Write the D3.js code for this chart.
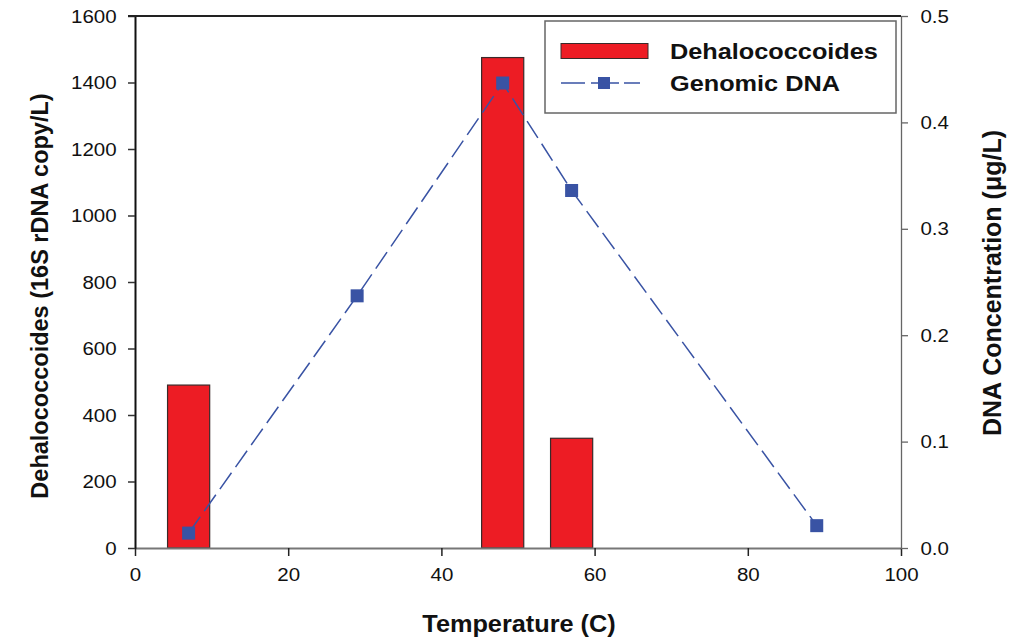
<!DOCTYPE html>
<html>
<head>
<meta charset="utf-8">
<script src="https://cdn.jsdelivr.net/npm/d3@7"></script>
<style>
  body { margin: 0; background: #fff; }
  svg { display: block; font-family: "Liberation Sans", Arial, sans-serif; }
</style>
</head>
<body>
<div id="chart"></div>
<script>
// Data
var barTemps = [7, 48, 57];
var barCounts = [490, 1475, 330];
var dnaTemps = [7, 29, 48, 57, 89];
var dnaConc = [0.014, 0.237, 0.437, 0.336, 0.021];
var xTicks = [0, 20, 40, 60, 80, 100];
var leftTicks = [0, 200, 400, 600, 800, 1000, 1200, 1400, 1600];
var rightTicks = [0, 0.1, 0.2, 0.3, 0.4, 0.5];

var width = 1014, height = 637;
var plotLeft = 135, plotRight = 901, plotTop = 16, plotBottom = 548;

var svg = d3.select('#chart')
            .append('svg')
            .attr('width', width)
            .attr('height', height);

var x = d3.scaleLinear().domain([0, 100]).range([plotLeft, plotRight]);
var yL = d3.scaleLinear().domain([0, 1600]).range([plotBottom, plotTop]);
var yR = d3.scaleLinear().domain([0, 0.5]).range([plotBottom, plotTop]);

var stretch = 'scale(1.08,1)';

// bars
var barW = x(5.5) - x(0);
svg.selectAll('.bar')
   .data(barTemps)
   .enter()
   .append('rect')
   .attr('class', 'bar')
   .attr('x', function(d) { return x(d) - barW / 2; })
   .attr('y', function(d, i) { return yL(barCounts[i]); })
   .attr('width', barW)
   .attr('height', function(d, i) { return yL(0) - yL(barCounts[i]); })
   .attr('fill', '#ed1c24')
   .attr('stroke', '#3a2a2a')
   .attr('stroke-width', 1.2);

// axes
var xAxis = svg.append('g')
   .attr('transform', 'translate(0,' + plotBottom + ')')
   .call(d3.axisBottom(x).tickValues(xTicks).tickSizeInner(8).tickSizeOuter(0).tickPadding(12));
xAxis.select('.domain').attr('stroke', '#777').attr('stroke-width', 2);
xAxis.selectAll('.tick line').attr('stroke', '#222').attr('stroke-width', 1.5);

var yAxisL = svg.append('g')
   .attr('transform', 'translate(' + plotLeft + ',0)')
   .call(d3.axisLeft(yL).tickValues(leftTicks).tickFormat(d3.format('d')).tickSizeInner(7).tickSizeOuter(0).tickPadding(10));
yAxisL.select('.domain').attr('stroke', '#111').attr('stroke-width', 2);
yAxisL.selectAll('.tick line').attr('stroke', '#333').attr('stroke-width', 1.5);

var yAxisR = svg.append('g')
   .attr('transform', 'translate(' + plotRight + ',0)')
   .call(d3.axisRight(yR).tickValues(rightTicks).tickFormat(d3.format('.1f')).tickSizeInner(7).tickSizeOuter(0).tickPadding(11));
yAxisR.select('.domain').attr('stroke', '#666').attr('stroke-width', 1.3);
yAxisR.selectAll('.tick line').attr('stroke', '#666').attr('stroke-width', 1.3);

// top frame line
svg.append('line')
   .attr('x1', plotLeft - 7).attr('x2', plotRight)
   .attr('y1', plotTop).attr('y2', plotTop)
   .attr('stroke', '#222').attr('stroke-width', 2);

svg.selectAll('.tick text')
   .attr('font-size', 19)
   .attr('fill', '#111')
   .attr('font-family', '"Liberation Sans", Arial, sans-serif')
   .attr('transform', stretch);

// genomic DNA line
var line = d3.line()
   .x(function(d) { return x(d[0]); })
   .y(function(d) { return yR(d[1]); });
var pts = dnaTemps.map(function(t, i) { return [t, dnaConc[i]]; });

svg.append('path')
   .datum(pts)
   .attr('d', line)
   .attr('fill', 'none')
   .attr('stroke', '#3953a4')
   .attr('stroke-width', 1.5)
   .attr('stroke-dasharray', '20,7');

svg.selectAll('.pt')
   .data(pts)
   .enter()
   .append('rect')
   .attr('class', 'pt')
   .attr('x', function(d) { return x(d[0]) - 6.5; })
   .attr('y', function(d) { return yR(d[1]) - 6.5; })
   .attr('width', 13)
   .attr('height', 13)
   .attr('fill', '#3953a4');

// legend
var lg = svg.append('g');
lg.append('rect')
  .attr('x', 545).attr('y', 21)
  .attr('width', 351).attr('height', 92)
  .attr('fill', '#fff')
  .attr('stroke', '#666')
  .attr('stroke-width', 1.5);
lg.append('rect')
  .attr('x', 561).attr('y', 43.5)
  .attr('width', 87).attr('height', 15)
  .attr('fill', '#ed1c24')
  .attr('stroke', '#3a2a2a')
  .attr('stroke-width', 1);
lg.append('line')
  .attr('x1', 561).attr('x2', 640)
  .attr('y1', 83).attr('y2', 83)
  .attr('stroke', '#3953a4')
  .attr('stroke-width', 1.5)
  .attr('stroke-dasharray', '24,6,28,5');
lg.append('rect')
  .attr('x', 598).attr('y', 77)
  .attr('width', 12).attr('height', 12)
  .attr('fill', '#3953a4');
lg.append('text')
  .attr('transform', 'translate(670,59) scale(1.15,1)')
  .attr('font-size', 22)
  .attr('font-weight', 'bold')
  .attr('fill', '#111')
  .text('Dehalococcoides');
lg.append('text')
  .attr('transform', 'translate(670,91) scale(1.15,1)')
  .attr('font-size', 22)
  .attr('font-weight', 'bold')
  .attr('fill', '#111')
  .text('Genomic DNA');

// axis titles
svg.append('text')
   .attr('transform', 'translate(519,632) scale(1.1,1)')
   .attr('text-anchor', 'middle')
   .attr('font-size', 23)
   .attr('font-weight', 'bold')
   .attr('fill', '#111')
   .text('Temperature (C)');

svg.append('text')
   .attr('transform', 'translate(48,296) rotate(-90)')
   .attr('text-anchor', 'middle')
   .attr('font-size', 23.5)
   .attr('font-weight', 'bold')
   .attr('fill', '#111')
   .text('Dehalococcoides (16S rDNA copy/L)');

svg.append('text')
   .attr('transform', 'translate(1001,283) rotate(-90)')
   .attr('text-anchor', 'middle')
   .attr('font-size', 25)
   .attr('font-weight', 'bold')
   .attr('fill', '#111')
   .text('DNA Concentration (\u03bcg/L)');
</script>
</body>
</html>
